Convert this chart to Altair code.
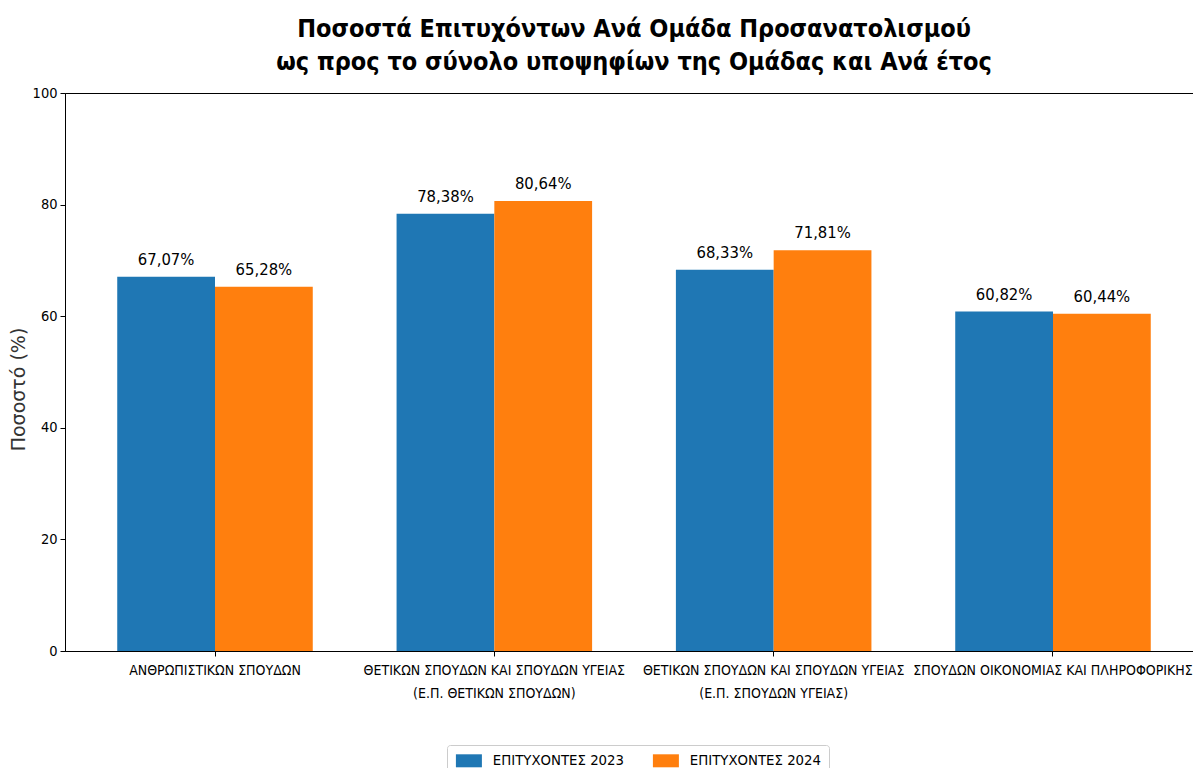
import altair as alt
import pandas as pd

categories = [
    "ΑΝΘΡΩΠΙΣΤΙΚΩΝ ΣΠΟΥΔΩΝ",
    "ΘΕΤΙΚΩΝ ΣΠΟΥΔΩΝ ΚΑΙ ΣΠΟΥΔΩΝ ΥΓΕΙΑΣ|(Ε.Π. ΘΕΤΙΚΩΝ ΣΠΟΥΔΩΝ)",
    "ΘΕΤΙΚΩΝ ΣΠΟΥΔΩΝ ΚΑΙ ΣΠΟΥΔΩΝ ΥΓΕΙΑΣ|(Ε.Π. ΣΠΟΥΔΩΝ ΥΓΕΙΑΣ)",
    "ΣΠΟΥΔΩΝ ΟΙΚΟΝΟΜΙΑΣ ΚΑΙ ΠΛΗΡΟΦΟΡΙΚΗΣ",
]
series_names = ["ΕΠΙΤΥΧΟΝΤΕΣ 2023", "ΕΠΙΤΥΧΟΝΤΕΣ 2024"]
values_2023 = [67.07, 78.38, 68.33, 60.82]
values_2024 = [65.28, 80.64, 71.81, 60.44]
series_colors = ["#1f77b4", "#ff7f0e"]
y_ticks = [0, 20, 40, 60, 80, 100]

rows = []
for s, vals in zip(series_names, [values_2023, values_2024]):
    for c, v in zip(categories, vals):
        rows.append({"cat": c, "series": s, "value": v,
                     "label": f"{v:.2f}%".replace(".", ",")})
df = pd.DataFrame(rows)

COND = "DejaVu Sans Condensed"
FONT = "DejaVu Sans"

x_enc = alt.X(
    "cat:N", sort=categories, title=None,
    scale=alt.Scale(paddingInner=0.3, paddingOuter=0.187),
    axis=alt.Axis(
        labelExpr="split(datum.label, '|')",
        labelAngle=0, labelFont=COND, labelFontSize=14.0, labelColor="black",
        labelLineHeight=23, labelPadding=7, labelBaseline="top",
        labelOverlap=False, labelBound=False, labelFlush=False,
        labelLimit=0, tickSize=5, tickColor="black", domainColor="black",
    ),
)
xoff = alt.XOffset("series:N", sort=series_names,
                   scale=alt.Scale(paddingInner=0, paddingOuter=0))
y_enc = alt.Y(
    "value:Q",
    scale=alt.Scale(domain=[0, 100], nice=False),
    axis=alt.Axis(
        values=y_ticks, title="Ποσοστό (%)", grid=False,
        labelFont=COND, labelFontSize=14.5, labelColor="black",
        labelPadding=3, tickSize=5, tickColor="black", domainColor="black",
        titleFont=FONT, titleFontSize=19, titleFontWeight="normal",
        titleColor="#333333", titleAngle=270, titleX=-47, titleY=296,
        titleBaseline="middle", titleAlign="center",
    ),
)

bars = alt.Chart(df).mark_bar().encode(
    x=x_enc, xOffset=xoff, y=y_enc,
    color=alt.Color(
        "series:N", sort=series_names,
        scale=alt.Scale(domain=series_names, range=series_colors),
        legend=alt.Legend(
            title=None, orient="none", direction="horizontal",
            legendX=382, legendY=652,
            symbolType="M-1,-1H3V1H-1Z", symbolSize=169, symbolStrokeWidth=0,
            symbolOpacity=1,
            labelFont=COND, labelFontSize=14.8, labelColor="black",
            labelOffset=23, columnPadding=28, padding=8,
            strokeColor="#cccccc", cornerRadius=3, fillColor="white",
        ),
    ),
)

texts = alt.Chart(df).mark_text(
    baseline="alphabetic", dy=-12, font=COND, fontSize=16.5, color="black"
).encode(x=alt.X("cat:N", sort=categories), xOffset=xoff,
         y="value:Q", text="label:N")

chart = alt.layer(bars, texts).properties(
    width=1138, height=558, background="white",
    title=alt.TitleParams(
        text=["Ποσοστά Επιτυχόντων Ανά Ομάδα Προσανατολισμού",
              "ως προς το σύνολο υποψηφίων της Ομάδας και Ανά έτος"],
        font=COND, fontSize=25, fontWeight="bold", color="black",
        lineHeight=33, anchor="middle", offset=10,
    ),
    autosize=alt.AutoSizeParams(type="none"),
    padding={"left": 57, "top": 85, "right": -10, "bottom": 117},
).configure_view(stroke="black", strokeWidth=1)

chart.save("out.html", embed_options={"renderer": "svg", "actions": False})
